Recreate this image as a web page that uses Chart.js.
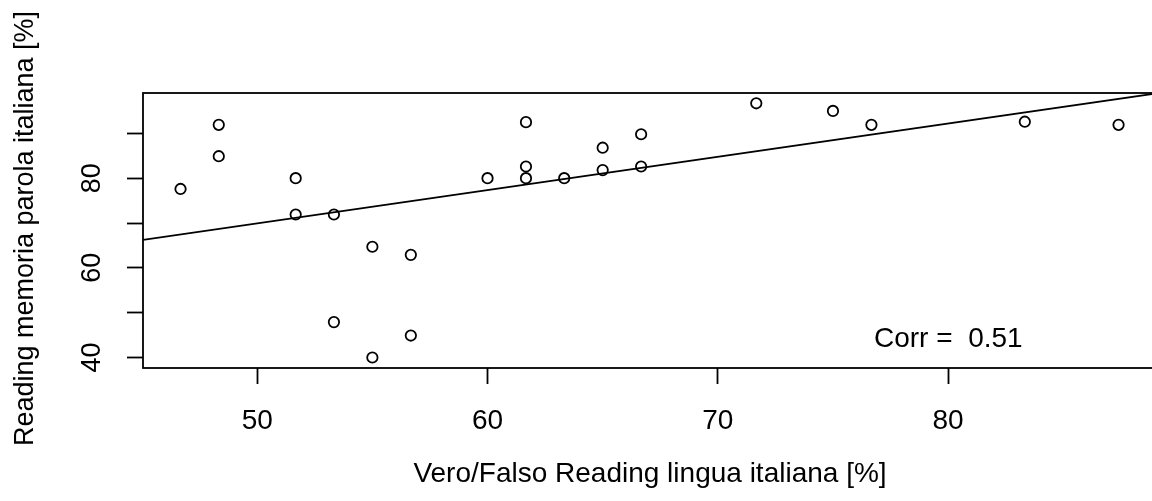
<!DOCTYPE html>
<html>
<head>
<meta charset="utf-8">
<title>Vero/Falso vs memoria parola</title>
<script src="https://cdn.jsdelivr.net/npm/chart.js@4/dist/chart.umd.min.js"></script>
<style>
    html, body { margin: 0; padding: 0; background: #fff; overflow: hidden; }
    #wrap { width: 1170px; height: 501px; position: relative; }
</style>
</head>
<body>
<div id="wrap"><canvas id="scatterChart"></canvas></div>
<script>
// Data
const xValues = [46.67, 48.33, 48.33, 51.67, 51.67, 53.33, 53.33, 55, 55, 56.67, 56.67, 60,
    61.67, 61.67, 61.67, 63.33, 65, 65, 66.67, 66.67, 71.67, 75, 76.67, 83.33, 87.4];
const yValues = [77.6, 91.9, 84.9, 80, 71.9, 71.9, 47.9, 64.7, 40, 62.9, 44.9, 80,
    92.5, 82.6, 80, 80, 86.8, 81.8, 89.8, 82.6, 96.7, 95, 91.9, 92.6, 91.9];

const xTickValues = [50, 60, 70, 80];
const yTickValues = [40, 50, 60, 70, 80, 90];
const yTickLabels = ['40', '', '60', '', '80', ''];

// Regression line as drawn in the reference
const fitIntercept = 32.78;
const fitSlope = 0.7427;
const corrText = 'Corr =  0.51';

const xTitle = 'Vero/Falso Reading lingua italiana [%]';
const yTitle = 'Reading memoria parola italiana [%]';

const xMin = 45.04, xMax = 89.07;
const yMin = 37.66, yMax = 99.0;

const FONT = '"Liberation Sans", Arial, Helvetica, sans-serif';
const LW = 1.8;

const points = xValues.map((x, i) => ({ x: x, y: yValues[i] }));
const fitLine = [xMin, xMax].map(x => ({ x: x, y: fitIntercept + fitSlope * x }));

// Box, rotated y labels, titles and the correlation note
const rDecorations = {
    id: 'rDecorations',
    afterDraw(chart) {
        const ctx = chart.ctx;
        const area = chart.chartArea;
        const yScale = chart.scales.y;

        ctx.save();
        ctx.strokeStyle = '#000';
        ctx.lineWidth = LW;
        ctx.strokeRect(area.left, area.top, area.right - area.left, area.bottom - area.top);

        ctx.fillStyle = '#000';
        ctx.textAlign = 'center';
        ctx.textBaseline = 'alphabetic';

        // y tick labels, rotated like R
        ctx.font = '27px ' + FONT;
        yTickValues.forEach((v, i) => {
            if (!yTickLabels[i]) return;
            ctx.save();
            ctx.translate(100, yScale.getPixelForValue(v));
            ctx.rotate(-Math.PI / 2);
            ctx.fillText(yTickLabels[i], 0, 0);
            ctx.restore();
        });

        // y title
        ctx.save();
        ctx.translate(33, (area.top + area.bottom) / 2 - 2);
        ctx.rotate(-Math.PI / 2);
        ctx.fillText(yTitle, 0, 0);
        ctx.restore();

        // x title
        ctx.font = '28px ' + FONT;
        ctx.fillText(xTitle, (area.left + area.right) / 2, 482);

        // correlation note
        ctx.textAlign = 'left';
        ctx.fillText(corrText, 874, 347);
        ctx.restore();
    }
};

document.addEventListener('DOMContentLoaded', () => {
    const ctx = document.getElementById('scatterChart');
    new Chart(ctx.getContext('2d'), {
        type: 'scatter',
        data: {
            datasets: [{
                label: 'punti',
                data: points,
                pointStyle: 'circle',
                pointRadius: 5.2,
                pointBorderWidth: 1.8,
                pointBorderColor: '#000',
                pointBackgroundColor: 'rgba(0,0,0,0)',
                showLine: false
            }, {
                type: 'line',
                label: 'fit',
                data: fitLine,
                borderColor: '#000',
                borderWidth: LW,
                pointRadius: 0,
                fill: false
            }]
        },
        options: {
            responsive: true,
            maintainAspectRatio: false,
            animation: false,
            events: [],
            layout: {
                padding: { left: 0, top: 93, right: 13, bottom: 0 }
            },
            plugins: {
                legend: { display: false },
                tooltip: { enabled: false }
            },
            scales: {
                x: {
                    type: 'linear',
                    min: xMin,
                    max: xMax,
                    afterBuildTicks: scale => {
                        scale.ticks = xTickValues.map(v => ({ value: v }));
                    },
                    afterFit: scale => { scale.height = 133; },
                    border: { display: false },
                    grid: {
                        drawOnChartArea: false,
                        drawTicks: true,
                        tickLength: 16,
                        tickColor: '#000',
                        tickWidth: LW
                    },
                    ticks: {
                        color: '#000',
                        padding: 20,
                        maxRotation: 0,
                        autoSkip: false,
                        font: { family: FONT, size: 28 }
                    }
                },
                y: {
                    type: 'linear',
                    min: yMin,
                    max: yMax,
                    afterBuildTicks: scale => {
                        scale.ticks = yTickValues.map(v => ({ value: v }));
                    },
                    afterFit: scale => { scale.width = 143; },
                    border: { display: false },
                    grid: {
                        drawOnChartArea: false,
                        drawTicks: true,
                        tickLength: 16,
                        tickColor: '#000',
                        tickWidth: LW
                    },
                    ticks: { display: false }
                }
            }
        },
        plugins: [rDecorations]
    });
});
</script>
</body>
</html>
